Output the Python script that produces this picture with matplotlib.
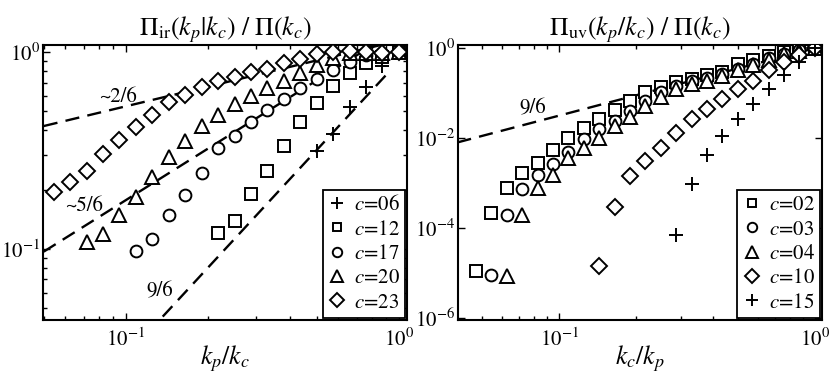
"""Infrared / ultraviolet transfer ratios, two log-log panels."""

import matplotlib
matplotlib.use("Agg")
import matplotlib.pyplot as plt
from matplotlib.ticker import LogLocator, NullFormatter, FixedLocator

plt.rcParams["font.family"] = ["STIXGeneral", "DejaVu Serif"]
plt.rcParams["mathtext.fontset"] = "stix"

# shell ratios 2^(-k/5), k = 22 .. 0
X_SHELLS = [0.0474, 0.0544, 0.0625, 0.0718, 0.0825, 0.0947, 0.1088, 0.125,
            0.1436, 0.1649, 0.1895, 0.2176, 0.25, 0.2872, 0.3299, 0.3789,
            0.4353, 0.5, 0.5743, 0.6598, 0.7579, 0.8706, 1.0]

# left panel: Pi_ir(k_p|k_c) / Pi(k_c)
IR_LABELS = ["06", "12", "17", "20", "23"]
IR_MARKERS = ["+", "s", "o", "^", "D"]
IR_C06 = [0.316, 0.384, 0.529, 0.664, 0.854, 1.0]
IR_C12 = [0.120, 0.139, 0.190, 0.250, 0.332, 0.443, 0.549, 0.676, 0.785,
          0.880, 0.940, 1.0]
IR_C17 = [0.098, 0.112, 0.148, 0.188, 0.244, 0.324, 0.375, 0.444, 0.508,
          0.577, 0.654, 0.730, 0.815, 0.893, 0.971, 0.98, 1.0]
IR_C20 = [0.109, 0.119, 0.148, 0.183, 0.231, 0.294, 0.353, 0.419, 0.479,
          0.545, 0.598, 0.654, 0.717, 0.787, 0.859, 0.938, 0.99, 0.99,
          0.99, 1.0]
IR_C23 = [0.195, 0.220, 0.249, 0.303, 0.357, 0.418, 0.479, 0.560, 0.605,
          0.664, 0.713, 0.747, 0.792, 0.820, 0.879, 0.922, 0.977, 1.0,
          1.01, 1.0, 0.99, 1.0]
IR_SERIES = [IR_C06, IR_C12, IR_C17, IR_C20, IR_C23]

# right panel: Pi_uv(k_p/k_c) / Pi(k_c)
UV_LABELS = ["02", "03", "04", "10", "15"]
UV_MARKERS = ["s", "o", "^", "D", "+"]
UV_C02 = [1.12e-5, 2.17e-4, 7.9e-4, 1.66e-3, 2.79e-3, 5.57e-3, 1.02e-2,
          1.70e-2, 2.71e-2, 4.19e-2, 6.78e-2, 0.104, 0.135, 0.175, 0.208,
          0.247, 0.293, 0.453, 0.537, 0.661, 0.826, 0.935, 1.0]
UV_C03 = [8.9e-6, 1.93e-4, 7.2e-4, 1.53e-3, 2.64e-3, 4.92e-3, 9.35e-3,
          1.57e-2, 2.41e-2, 4.04e-2, 6.78e-2, 0.104, 0.147, 0.191, 0.220,
          0.261, 0.350, 0.453, 0.618, 0.760, 0.902, 1.0]
UV_C04 = [8.65e-6, 1.93e-4, 7.6e-4, 1.53e-3, 3.6e-3, 6.05e-3, 1.02e-2,
          1.86e-2, 2.96e-2, 5.24e-2, 8.05e-2, 0.124, 0.161, 0.191, 0.235,
          0.321, 0.415, 0.557, 0.760, 0.879, 1.0]
UV_C10 = [1.45e-5, 2.96e-4, 1.40e-3, 3.04e-3, 6.05e-3, 1.32e-2, 2.63e-2,
          4.42e-2, 7.41e-2, 0.124, 0.191, 0.321, 0.492, 0.696, 1.0]
UV_C15 = [6.85e-5, 9.6e-4, 4.30e-3, 1.11e-2, 2.63e-2, 5.72e-2, 0.124,
          0.247, 0.492, 1.0]
UV_SERIES = [UV_C02, UV_C03, UV_C04, UV_C10, UV_C15]

# guide power laws: (prefactor, exponent, x start, x end)
IR_GUIDES = [(1.143, 1 / 3, 0.05, 1.0), (1.313, 0.87, 0.05, 1.0),
             (0.9, 1.5, 0.12, 0.93)]
UV_GUIDES = [(1.0, 1.5, 0.04, 1.0)]

# guide annotations: (text, x, y)
IR_NOTES = [("~2/6", 0.0935, 0.59), ("~5/6", 0.0705, 0.165),
            ("9/6", 0.133, 0.0605)]
UV_NOTES = [("9/6", 0.0791, 0.045)]

MARKER_SIZES = {"+": 10, "s": 8, "o": 8.5, "^": 10, "D": 8.5}


def style_axes(ax):
    ax.set_xscale("log")
    ax.set_yscale("log")
    for side in ax.spines.values():
        side.set_linewidth(1.5)
    ax.tick_params(which="both", direction="in", top=True, right=True,
                   labelsize=15, width=1.0)
    ax.tick_params(axis="x", which="major", pad=6)
    ax.tick_params(axis="y", which="major", pad=2)
    ax.tick_params(which="major", length=5)
    ax.tick_params(which="minor", length=3)
    ax.xaxis.set_major_locator(FixedLocator([0.1, 1.0]))
    ax.xaxis.set_minor_locator(LogLocator(base=10, subs=range(2, 10)))
    ax.xaxis.set_minor_formatter(NullFormatter())


def draw_guides(ax, guides, notes):
    for amp, slope, x0, x1 in guides:
        xs = [x0 * (x1 / x0) ** (i / 50) for i in range(51)]
        ax.plot(xs, [amp * x ** slope for x in xs], color="black", lw=1.7,
                linestyle=(0, (6, 3.5)), zorder=1)
    for text, x, y in notes:
        ax.text(x, y, text, fontsize=15, ha="center", va="center")


def draw_series(ax, series, markers, labels):
    for ys, marker, label in zip(series, markers, labels):
        xs = X_SHELLS[len(X_SHELLS) - len(ys):]
        ax.plot(xs, ys, linestyle="none", marker=marker,
                markersize=MARKER_SIZES[marker], markerfacecolor="white",
                markeredgecolor="black", markeredgewidth=1.4, color="black",
                label=f"$c$={label}", zorder=3)
    leg = ax.legend(loc="lower right", fontsize=15, frameon=True,
                    fancybox=False, borderaxespad=0.1, handletextpad=0.35,
                    labelspacing=0.22, handlelength=0.9, borderpad=0.25,
                    framealpha=1, markerscale=0.8)
    leg.get_frame().set_edgecolor("black")
    leg.get_frame().set_linewidth(1.3)


fig = plt.figure(figsize=(8.31, 3.76), dpi=100)
ax_ir = fig.add_axes([0.0517, 0.149, 0.438, 0.731])
ax_uv = fig.add_axes([0.551, 0.149, 0.438, 0.731])

style_axes(ax_ir)
draw_guides(ax_ir, IR_GUIDES, IR_NOTES)
draw_series(ax_ir, IR_SERIES, IR_MARKERS, IR_LABELS)
ax_ir.set_xlim(0.0497, 1.07)
ax_ir.set_ylim(0.0436, 1.085)
ax_ir.yaxis.set_major_locator(FixedLocator([0.1, 1.0]))
ax_ir.yaxis.set_minor_locator(LogLocator(base=10, subs=range(2, 10)))
ax_ir.yaxis.set_minor_formatter(NullFormatter())
ax_ir.set_title(r"$\Pi_{\rm ir}(k_p|k_c)\ /\ \Pi(k_c)$", fontsize=18.5, pad=6)
ax_ir.set_xlabel(r"$k_p/k_c$", fontsize=18.5, labelpad=-5)

style_axes(ax_uv)
draw_guides(ax_uv, UV_GUIDES, UV_NOTES)
draw_series(ax_uv, UV_SERIES, UV_MARKERS, UV_LABELS)
ax_uv.set_xlim(0.0402, 1.065)
ax_uv.set_ylim(0.9e-6, 1.17)
ax_uv.yaxis.set_major_locator(FixedLocator([1e-6, 1e-4, 1e-2, 1.0]))
ax_uv.yaxis.set_minor_locator(FixedLocator([]))
ax_uv.set_title(r"$\Pi_{\rm uv}(k_p/k_c)\ /\ \Pi(k_c)$", fontsize=18.5, pad=6)
ax_uv.set_xlabel(r"$k_c/k_p$", fontsize=18.5, labelpad=-5)

fig.savefig("out.png", dpi=100, facecolor="white")
